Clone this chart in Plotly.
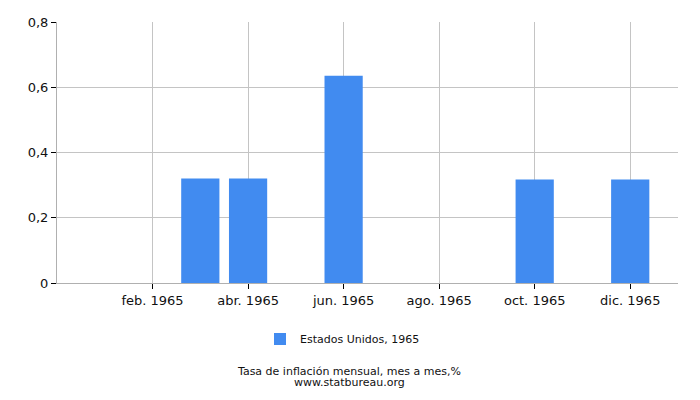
import plotly.graph_objects as go

months = ["ene. 1965", "feb. 1965", "mar. 1965", "abr. 1965", "may. 1965", "jun. 1965",
          "jul. 1965", "ago. 1965", "sep. 1965", "oct. 1965", "nov. 1965", "dic. 1965"]
values = [0, 0, 0.32, 0.32, 0, 0.635, 0, 0, 0, 0.317, 0, 0.317]
tick_months = ["feb. 1965", "abr. 1965", "jun. 1965", "ago. 1965", "oct. 1965", "dic. 1965"]
y_ticks = [0, 0.2, 0.4, 0.6, 0.8]
y_tick_labels = ["0", "0,2", "0,4", "0,6", "0,8"]
series_name = "Estados Unidos, 1965"

font = "DejaVu Sans, Verdana, sans-serif"
W, H = 692, 392  # page body has an 8px margin
L, R, T, B = 49, 22, 14, 117
PW, PH = W - L - R, H - T - B


def px_x(x):
    return (x - L) / PW


def px_y(y):
    return (H - B - y) / PH


fig = go.Figure()
fig.add_trace(go.Bar(x=months, y=values, name=series_name, marker_color="#418bf0",
                     marker_line_width=0, width=0.8))

fig.update_layout(
    width=W, height=H,
    margin=dict(l=L, r=R, t=T, b=B, autoexpand=False),
    paper_bgcolor="white", plot_bgcolor="white",
    separators=",.",
    font=dict(family=font, size=13, color="#111"),
    showlegend=True,
    legend=dict(orientation="h", xref="container", yref="container",
                x=252 / W, xanchor="left", y=1 - 331 / H, yanchor="middle",
                font=dict(size=11), itemwidth=30),
    annotations=[
        dict(text="Tasa de inflación mensual, mes a mes,%", x=px_x(341), xref="paper",
             y=px_y(363), yref="paper", showarrow=False, font=dict(size=11),
             yanchor="middle", xanchor="center"),
        dict(text="www.statbureau.org", x=px_x(341), xref="paper",
             y=px_y(374), yref="paper", showarrow=False, font=dict(size=11),
             yanchor="middle", xanchor="center"),
    ],
)
fig.update_xaxes(type="category", range=[-1, 12], tickmode="array", tickvals=tick_months,
                 ticktext=tick_months, showgrid=True, gridcolor="#c4c4c4", showline=True,
                 linecolor="#b0b0b0", ticks="outside", ticklen=5, tickcolor="#000",
                 tickfont=dict(size=13))
fig.update_yaxes(range=[0, 0.8], tickmode="array", tickvals=y_ticks, ticktext=y_tick_labels,
                 showgrid=True, gridcolor="#c4c4c4", showline=True, linecolor="#b0b0b0",
                 ticks="outside", ticklen=5, tickcolor="#000", zeroline=False,
                 tickfont=dict(size=13))

fig.write_html("out.html")
